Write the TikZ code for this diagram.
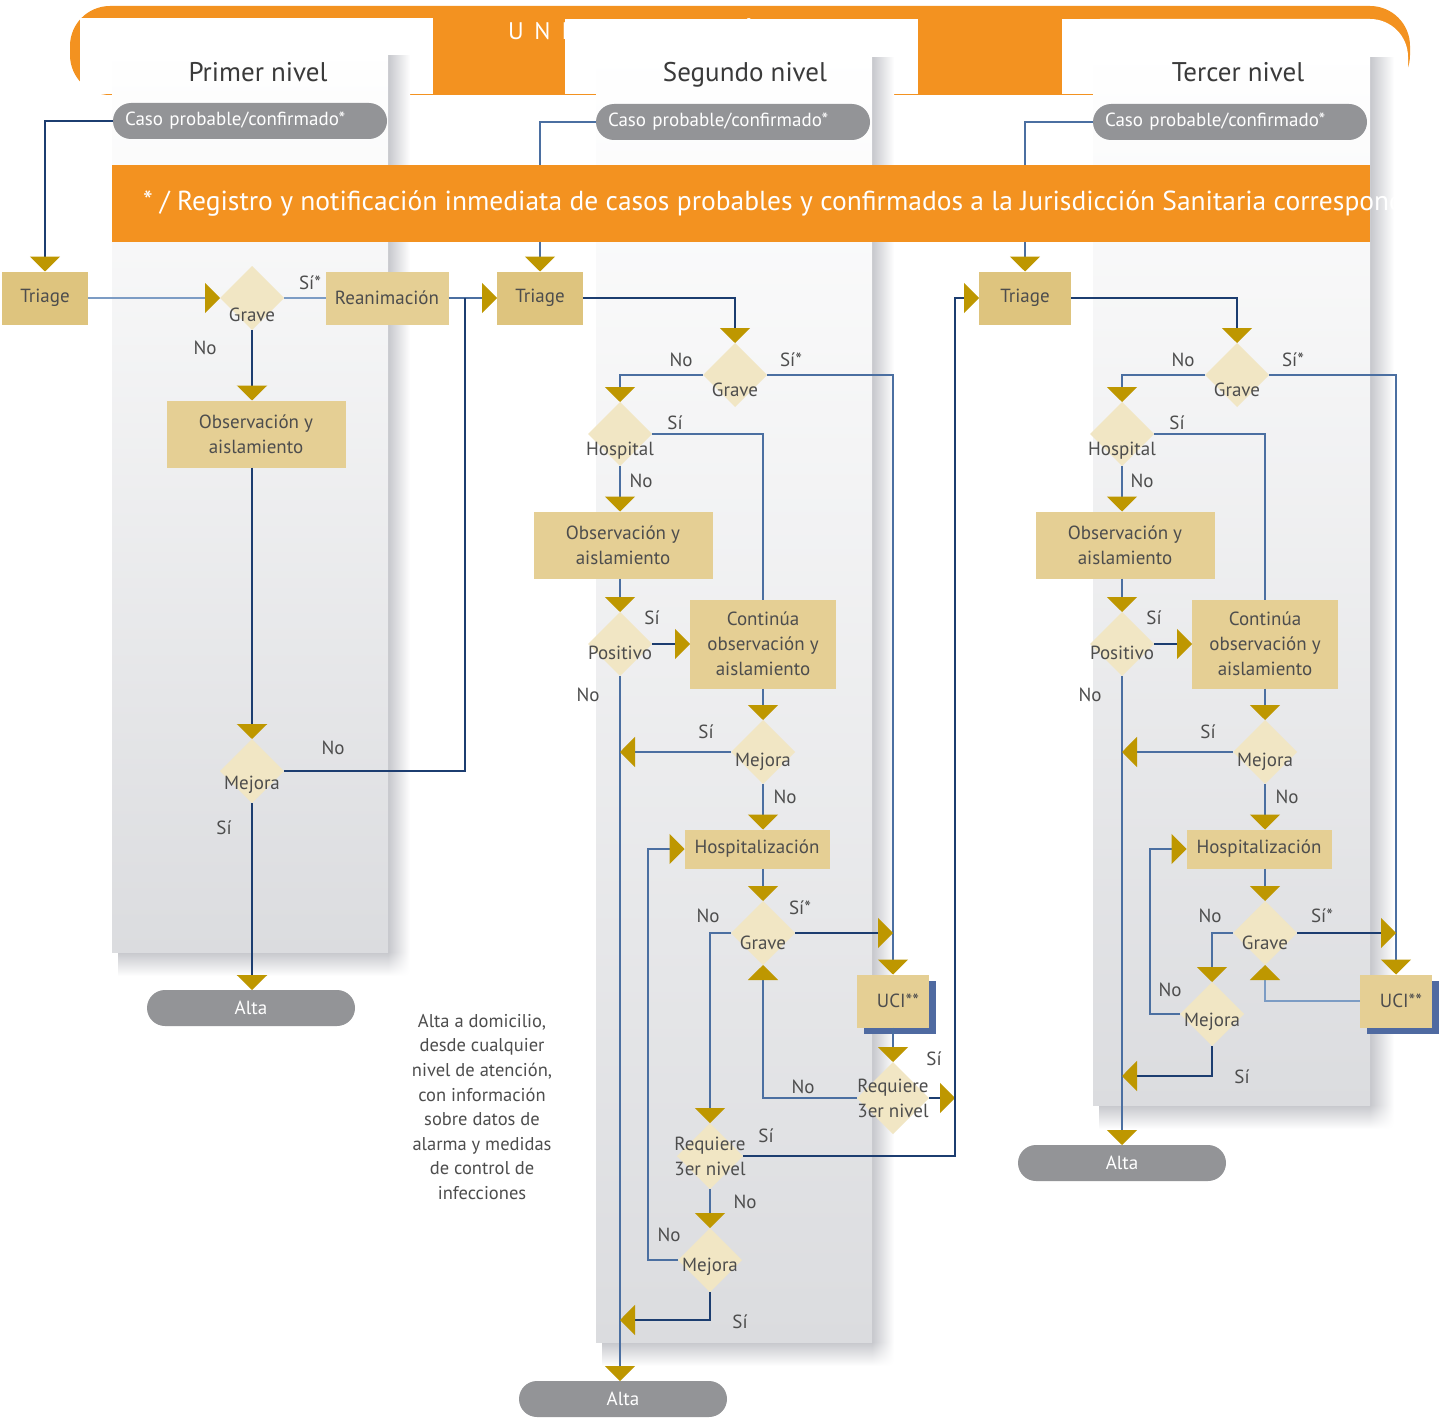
\documentclass[tikz,border=0pt]{standalone}
\usepackage{fontspec}
\setmainfont{PT Sans}
\usepackage{tikz}
\usetikzlibrary{positioning}
\usetikzlibrary{shapes.geometric}
\usetikzlibrary{arrows.meta}
\usetikzlibrary{shadows,shadings}

\definecolor{naranja}{HTML}{F39220}
\definecolor{arena}{HTML}{E5CF94}
\definecolor{arenatriage}{HTML}{DEC47E}
\definecolor{crema}{HTML}{F1E6C4}
\definecolor{oro}{HTML}{BE9700}
\definecolor{azulclaro}{HTML}{7C9CC4}
\definecolor{azul}{HTML}{4B6FA1}
\definecolor{marino}{HTML}{1C3D70}
\definecolor{gris}{HTML}{939497}
\definecolor{panel}{HTML}{DBDCDF}
\definecolor{sombrap}{HTML}{C6C7CC}
\definecolor{texto}{HTML}{4D4D4D}
\definecolor{tittexto}{HTML}{3A3A3A}
\definecolor{sombra}{HTML}{4F6AA1}

\tikzset{
  every node/.style={
    align=center,
    draw=none,
    inner sep=0pt,
    outer sep=0pt,
    text=texto,
    font=\fontsize{19}{25}\selectfont,
  },
  caja/.style={fill=arena},
  triage/.style={fill=arenatriage, minimum height=53pt},
  decision/.style={diamond, fill=crema, minimum width=64pt, minimum height=64pt},
  rotulo/.style={text height=13pt, text depth=4pt},
  titulo/.style={font=\fontsize{27}{27}\selectfont, text=tittexto, text height=19pt, text depth=5pt},
  pastilla/.style={fill=gris, rounded corners=18pt, minimum height=36pt, text=white,
    text width=250pt, inner xsep=12pt, align=left},
  alta/.style={fill=gris, rounded corners=18pt, minimum height=36pt, minimum width=208pt, text=white},
  uci/.style={fill=arena, minimum width=72pt, minimum height=53pt,
    drop shadow={shadow xshift=7pt, shadow yshift=-6pt, fill=sombra, opacity=1}},
  flujoclaro/.style={draw=azulclaro, line width=1.1pt},
  flujo/.style={draw=azul, line width=1.1pt},
  flujooscuro/.style={draw=marino, line width=1.4pt},
  flujogrueso/.style={draw=marino, line width=2.4pt},
  punta/.style={-{Triangle[width=30pt,length=15pt,color=oro]}},
}

\begin{document}
\begin{tikzpicture}[x=1pt,y=-1pt]
  \useasboundingbox (0,0) rectangle (1448,1418);
  \fill[white] (0,0) rectangle (1448,1418);

  % encabezado
  \fill[naranja, rounded corners=40pt] (70,6) rectangle (1410,95);
  \node[anchor=west, text=white, font=\fontsize{24}{24}\selectfont\addfontfeature{LetterSpace=45}] (unidades) at (508,29) {UNIDADES MÉDICAS};
  \fill[white] (80,18) rectangle (433,94);
  \fill[white] (565,19) rectangle (918,94);
  \begin{scope}
    \clip (1062,19) rectangle (1408,94);
    \fill[white, rounded corners=38pt] (1062,19) rectangle (1408,200);
  \end{scope}
  \fill[white] (1062,19) rectangle (1250,94);

  % columnas
  \shade[left color=sombrap, right color=white] (388,56) rectangle (410,952);
  \shade[top color=sombrap, bottom color=white] (118,952) rectangle (388,976);
  \shade[upper left=sombrap, upper right=white, lower left=white, lower right=white] (388,952) rectangle (410,976);
  \shade[top color=white, bottom color=panel] (112,48) rectangle (388,952);

  \shade[left color=sombrap, right color=white] (872,58) rectangle (894,1342);
  \shade[top color=sombrap, bottom color=white] (602,1342) rectangle (872,1366);
  \shade[upper left=sombrap, upper right=white, lower left=white, lower right=white] (872,1342) rectangle (894,1366);
  \shade[top color=white, bottom color=panel] (596,50) rectangle (872,1342);

  \shade[left color=sombrap, right color=white] (1370,58) rectangle (1394,1105);
  \shade[top color=sombrap, bottom color=white] (1099,1105) rectangle (1370,1129);
  \shade[upper left=sombrap, upper right=white, lower left=white, lower right=white] (1370,1105) rectangle (1394,1129);
  \shade[top color=white, bottom color=panel] (1093,50) rectangle (1370,1105);

  % titulos
  \node[titulo] (nivel1) at (258,75) {Primer nivel};
  \node[titulo] (nivel2) at (745,75) {Segundo nivel};
  \node[titulo] (nivel3) at (1238,75) {Tercer nivel};

  \node[pastilla] (caso1) at (250,121) {Caso probable/confirmado*};
  \node[pastilla] (caso2) at (733,122) {Caso probable/confirmado*};
  \node[pastilla] (caso3) at (1230,122) {Caso probable/confirmado*};

  % primer nivel
  \node[triage, minimum width=86pt] (triage1) at (45,298) {Triage};
  \node[decision, label={[rotulo,yshift=-19pt]center:Grave}] (grave1) at (252,298) {};
  \node[caja, minimum width=123pt, minimum height=53pt] (reanim1) at (387,298) {Reanimación};
  \node[caja, minimum width=179pt, minimum height=67pt] (obs1) at (256,434) {Observación y\\aislamiento};
  \node[decision, label={[rotulo,yshift=-14pt]center:Mejora}] (mejora1) at (252,771) {};
  \node[alta] (alta1) at (251,1008) {Alta};
  \coordinate (union1) at (465,298);

  % segundo nivel
  \node[triage, minimum width=86pt] (triage2) at (540,298) {Triage};
  \node[decision, label={[rotulo,yshift=-17pt]center:Grave}] (grave2) at (735,375) {};
  \node[decision, label={[rotulo,yshift=-17pt]center:Hospital}] (hosp2) at (620,434) {};
  \node[caja, minimum width=179pt, minimum height=67pt] (obs2) at (623,545) {Observación y\\aislamiento};
  \node[decision, label={[rotulo,yshift=-11pt]center:Positivo}] (pos2) at (620,644) {};
  \node[caja, minimum width=146pt, minimum height=89pt] (cont2) at (763,644) {Continúa\\observación y\\aislamiento};
  \node[decision, label={[rotulo,yshift=-10pt]center:Mejora}] (mej2a) at (763,752) {};
  \node[caja, minimum width=145pt, minimum height=39pt] (hz2) at (757,849) {Hospitalización};
  \node[decision, label={[rotulo,yshift=-12pt]center:Grave}] (grave2b) at (763,933) {};
  \node[uci] (uci2) at (893,1001) {\hspace*{10pt}UCI**};
  \node[decision, minimum width=72pt, minimum height=72pt, label={center:Requiere\\3er nivel}] (req2a) at (893,1098) {};
  \node[decision, minimum width=66pt, minimum height=66pt, label={center:Requiere\\3er nivel}] (req2b) at (710,1156) {};
  \node[decision, label={[rotulo,yshift=-7pt]center:Mejora}] (mej2b) at (710,1260) {};
  \node[alta] (alta2) at (623,1399) {Alta};
  \coordinate (subida) at (955,298);
  \coordinate (lazo2) at (648,1260);
  \coordinate (salida2) at (620,1320);

  % tercer nivel
  \node[triage, minimum width=92pt] (triage3) at (1025,298) {Triage};
  \node[decision, label={[rotulo,yshift=-17pt]center:Grave}] (grave3) at (1237,375) {};
  \node[decision, label={[rotulo,yshift=-17pt]center:Hospital}] (hosp3) at (1122,434) {};
  \node[caja, minimum width=179pt, minimum height=67pt] (obs3) at (1125,545) {Observación y\\aislamiento};
  \node[decision, label={[rotulo,yshift=-11pt]center:Positivo}] (pos3) at (1122,644) {};
  \node[caja, minimum width=146pt, minimum height=89pt] (cont3) at (1265,644) {Continúa\\observación y\\aislamiento};
  \node[decision, label={[rotulo,yshift=-10pt]center:Mejora}] (mej3a) at (1265,752) {};
  \node[caja, minimum width=145pt, minimum height=39pt] (hz3) at (1259,849) {Hospitalización};
  \node[decision, label={[rotulo,yshift=-12pt]center:Grave}] (grave3b) at (1265,933) {};
  \node[uci] (uci3) at (1396,1001) {\hspace*{10pt}UCI**};
  \node[decision, label={[rotulo,yshift=-8pt]center:Mejora}] (mej3b) at (1212,1014) {};
  \node[alta] (alta3) at (1122,1163) {Alta};
  \coordinate (lazo3) at (1150,1014);
  \coordinate (salida3) at (1122,1076);

  % conectores primer nivel
  \draw[flujooscuro, punta] (caso1.west) -| (triage1.north);
  \draw[flujoclaro, punta] (triage1) -- (grave1);
  \draw[flujoclaro] (grave1) -- (reanim1);
  \draw[flujo, punta] (reanim1) -- (triage2);
  \draw[flujogrueso, punta] (grave1) -- (obs1.north -| grave1);
  \draw[flujogrueso, punta] (obs1.south -| mejora1) -- (mejora1);
  \draw[flujogrueso, punta] (mejora1) -- (alta1.north -| mejora1);
  \draw[flujooscuro] (mejora1.east) -| (union1);

  % conectores segundo nivel
  \draw[flujo, punta] (caso2.west) -| (triage2.north);
  \draw[flujooscuro, punta] (triage2.east) -| (grave2.north);
  \draw[flujo, punta] (grave2.west) -| (hosp2.north);
  \draw[flujo, punta] (grave2.east) -| (uci2.north);
  \draw[flujo] (hosp2.east) -| (cont2.north);
  \draw[flujo, punta] (hosp2) -- (obs2.north -| hosp2);
  \draw[flujo, punta] (obs2.south -| pos2) -- (pos2);
  \draw[flujooscuro, punta] (pos2) -- (cont2.west |- pos2);
  \draw[flujo, punta] (pos2) -- (alta2.north -| pos2);
  \draw[flujo, punta] (cont2.south -| mej2a) -- (mej2a);
  \draw[flujo, punta] (mej2a) -- (pos2 |- mej2a);
  \draw[flujo, punta] (mej2a) -- (hz2.north -| mej2a);
  \draw[flujo, punta] (hz2.south -| grave2b) -- (grave2b);
  \draw[flujooscuro, punta] (grave2b) -- (uci2 |- grave2b);
  \draw[flujo, punta] (grave2b.west) -| (req2b.north);
  \draw[flujo, punta] (uci2.south -| req2a) -- (req2a);
  \draw[flujooscuro, punta] (req2a) -- (subida |- req2a);
  \draw[flujo, punta] (req2a.west) -| (grave2b.south);
  \draw[flujooscuro, punta] (req2b.east) -| (subida) -- (triage3.west);
  \draw[flujo, punta] (req2b) -- (mej2b);
  \draw[flujo, punta] (mej2b.west) -- (lazo2) |- (hz2.west);
  \draw[flujooscuro, punta] (mej2b.south) |- (salida2);

  % conectores tercer nivel
  \draw[flujo, punta] (caso3.west) -| (triage3.north);
  \draw[flujooscuro, punta] (triage3.east) -| (grave3.north);
  \draw[flujo, punta] (grave3.west) -| (hosp3.north);
  \draw[flujo, punta] (grave3.east) -| (uci3.north);
  \draw[flujo] (hosp3.east) -| (cont3.north);
  \draw[flujo, punta] (hosp3) -- (obs3.north -| hosp3);
  \draw[flujo, punta] (obs3.south -| pos3) -- (pos3);
  \draw[flujooscuro, punta] (pos3) -- (cont3.west |- pos3);
  \draw[flujo, punta] (pos3) -- (alta3.north -| pos3);
  \draw[flujo, punta] (cont3.south -| mej3a) -- (mej3a);
  \draw[flujo, punta] (mej3a) -- (pos3 |- mej3a);
  \draw[flujo, punta] (mej3a) -- (hz3.north -| mej3a);
  \draw[flujo, punta] (hz3.south -| grave3b) -- (grave3b);
  \draw[flujooscuro, punta] (grave3b) -- (uci3 |- grave3b);
  \draw[flujo, punta] (grave3b.west) -| (mej3b.north);
  \draw[flujoclaro, punta] (uci3.west) -| (grave3b.south);
  \draw[flujo, punta] (mej3b.west) -- (lazo3) |- (hz3.west);
  \draw[flujooscuro, punta] (mej3b.south) |- (salida3);

  % franja de registro
  \fill[naranja] (112,165) rectangle (1370,242);
  \begin{scope}
    \clip (112,165) rectangle (1400,242);
    \node[anchor=west, text=white, font=\fontsize{27.5}{27.5}\selectfont] (registro) at (143,204) {* / Registro y notificación inmediata de casos probables y confirmados a la Jurisdicción Sanitaria correspondiente};
  \end{scope}

  % etiquetas
  \node (e11) at (310,283) {Sí*};
  \node (e12) at (205,348) {No};
  \node (e13) at (333,748) {No};
  \node (e14) at (224,828) {Sí};

  \node (e21) at (681,360) {No};
  \node (e22) at (791,360) {Sí*};
  \node (e23) at (675,423) {Sí};
  \node (e24) at (641,481) {No};
  \node (e25) at (652,618) {Sí};
  \node (e26) at (588,695) {No};
  \node (e27) at (706,732) {Sí};
  \node (e28) at (785,797) {No};
  \node (e29) at (708,916) {No};
  \node (e210) at (800,908) {Sí*};
  \node (e211) at (934,1059) {Sí};
  \node (e212) at (803,1087) {No};
  \node (e213) at (766,1136) {Sí};
  \node (e214) at (745,1202) {No};
  \node (e215) at (669,1235) {No};
  \node (e216) at (740,1322) {Sí};

  \node (e31) at (1183,360) {No};
  \node (e32) at (1293,360) {Sí*};
  \node (e33) at (1177,423) {Sí};
  \node (e34) at (1142,481) {No};
  \node (e35) at (1154,618) {Sí};
  \node (e36) at (1090,695) {No};
  \node (e37) at (1208,732) {Sí};
  \node (e38) at (1287,797) {No};
  \node (e39) at (1210,916) {No};
  \node (e310) at (1322,916) {Sí*};
  \node (e311) at (1170,990) {No};
  \node (e312) at (1242,1077) {Sí};

  \node[font=\fontsize{18.5}{24.6}\selectfont] (domicilio) at (482,1107) {Alta a domicilio,\\desde cualquier\\nivel de atención,\\con información\\sobre datos de\\alarma y medidas\\de control de\\infecciones};
\end{tikzpicture}
\end{document}
